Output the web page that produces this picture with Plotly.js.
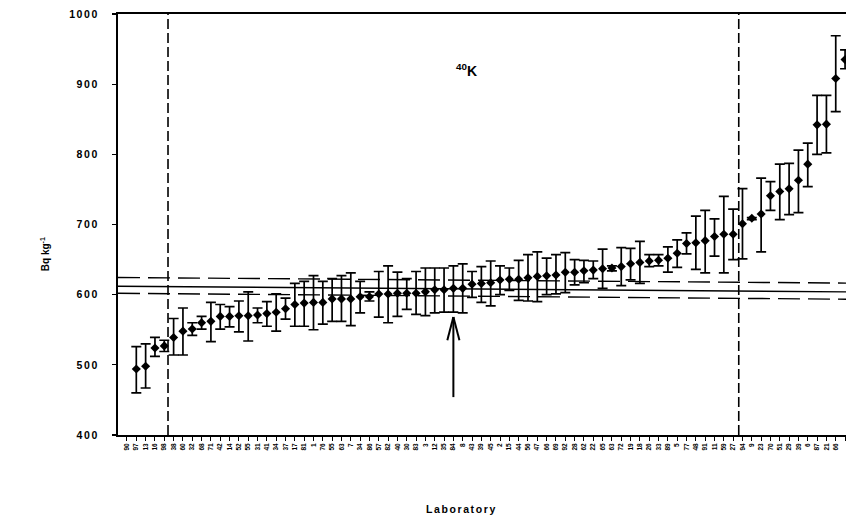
<!DOCTYPE html>
<html>
<head>
<meta charset="utf-8">
<script src="https://cdn.plot.ly/plotly-3.0.1.min.js"></script>
<style>
  html, body { margin: 0; padding: 0; background: #fff; overflow: hidden; }
  #chart { width: 846px; height: 522px; }
</style>
</head>
<body>
<div id="chart"></div>
<script>
// Laboratory codes (tick labels), first label sits one slot left of the first point
const labCodes = ['90','97','13','16','98','38','60','32','68','71','42','14','52','55','31','41','34','37','17','81',
  '1','76','55','63','7','34','86','57','82','40','30','83','3','12','35','84','8','43','39','45',
  '2','15','44','56','47','66','69','92','28','62','22','65','63','72','19','18','26','33','89','5',
  '77','48','91','11','59','27','94','9','23','70','51','29','39','6','87','21','66','73'];

// 40K activity (Bq/kg) for each laboratory result, sorted
const values = [494,498,524,527,539,548,551,560,562,569,569,570,570,571,573,575,580,586,588,589,
  589,594,594,594,597,597,601,601,602,602,602,604,607,607,609,609,615,616,617,621,
  622,622,624,626,627,628,632,632,634,635,637,638,640,644,646,648,649,652,659,673,
  674,677,683,686,686,701,709,715,741,747,751,763,786,842,843,908,935];
const errPlus = [32,32,15,8,27,33,9,9,27,17,14,21,34,10,17,26,15,30,31,38,
  30,29,33,37,22,7,32,40,30,21,31,34,31,31,32,35,18,24,31,20,
  16,27,33,35,25,29,28,18,15,13,28,3,27,22,30,9,8,16,19,15,
  38,43,25,54,36,50,1,51,20,39,36,43,30,42,41,61,14];
const errMinus = [34,31,12,8,25,34,9,9,29,18,15,23,36,11,18,27,15,31,33,39,
  31,32,32,38,23,6,33,41,33,23,30,34,33,32,34,35,19,27,33,21,
  16,30,33,36,27,27,29,18,17,12,28,4,27,23,30,8,8,20,20,15,
  38,46,28,55,36,50,2,54,21,40,37,46,32,42,41,47,13];

// Reference value lines (upper limit, reference value, lower limit) at left and right of plot
const refLeft = [624.5, 612, 602];
const refRight = [616.5, 604, 593.5];
const refDash = ['22px,8px', 'solid', '22px,8px'];

// Vertical dashed boundaries (in point-index units) and arrowed laboratory index
const boundaries = [4.4, 65.6];
const arrowIndex = 35;
const arrowTip = 568, arrowBase = 454, arrowWing = 535, arrowHalf = 0.65;

const yTicks = [400, 500, 600, 700, 800, 900, 1000];

const xPos = values.map((v, i) => i + 1);
const tickPos = labCodes.map((c, i) => i);

const trace = {
  type: 'scatter',
  mode: 'markers',
  x: xPos,
  y: values,
  marker: { symbol: 'diamond', size: 7, color: '#000' },
  error_y: {
    type: 'data', symmetric: false,
    array: errPlus, arrayminus: errMinus,
    color: '#000', thickness: 1.7, width: 5
  },
  hoverinfo: 'x+y',
  showlegend: false
};

const shapes = [];
refLeft.forEach((yl, i) => {
  shapes.push({
    type: 'line', xref: 'paper', yref: 'y',
    x0: 0, x1: 1, y0: yl, y1: refRight[i],
    line: { color: '#000', width: 1.4, dash: refDash[i] }
  });
});
boundaries.forEach(b => {
  shapes.push({
    type: 'line', xref: 'x', yref: 'paper',
    x0: b, x1: b, y0: 0, y1: 1,
    line: { color: '#000', width: 1.6, dash: '10px,4px' }
  });
});
// arrow shaft and open head
shapes.push({ type: 'line', xref: 'x', yref: 'y', x0: arrowIndex, x1: arrowIndex, y0: arrowBase, y1: arrowTip,
  line: { color: '#000', width: 2 } });
shapes.push({ type: 'line', xref: 'x', yref: 'y', x0: arrowIndex - arrowHalf, x1: arrowIndex, y0: arrowWing, y1: arrowTip,
  line: { color: '#000', width: 2 } });
shapes.push({ type: 'line', xref: 'x', yref: 'y', x0: arrowIndex + arrowHalf, x1: arrowIndex, y0: arrowWing, y1: arrowTip,
  line: { color: '#000', width: 2 } });

const font = 'Liberation Sans, Arial, sans-serif';

const layout = {
  width: 846, height: 522,
  margin: { l: 118, r: 0, t: 14, b: 87 },
  paper_bgcolor: '#fff', plot_bgcolor: '#fff',
  font: { family: font, color: '#000' },
  showlegend: false,
  xaxis: {
    range: [-0.963, 77.1],
    tickmode: 'array', tickvals: tickPos, ticktext: labCodes,
    tickangle: -90,
    tickfont: { family: font, size: 6.5, weight: 'bold', color: '#000' },
    ticks: 'outside', ticklen: 4, tickwidth: 1, tickcolor: '#000',
    showline: true, linecolor: '#000', linewidth: 1.8, mirror: true,
    showgrid: false, zeroline: false
  },
  yaxis: {
    range: [400, 1000],
    tickmode: 'array', tickvals: yTicks,
    tickfont: { family: font, size: 10.5, weight: 'bold', color: '#000' },
    ticks: 'outside', ticklen: 4, tickwidth: 1.2, tickcolor: '#000',
    ticklabelstandoff: 11,
    showline: true, linecolor: '#000', linewidth: 2,
    showgrid: false, zeroline: false
  },
  shapes: shapes,
  annotations: [
    { xref: 'paper', yref: 'paper', x: 0.479, y: 0.867, xanchor: 'center', yanchor: 'middle',
      text: '<sup>40</sup>K', showarrow: false,
      font: { family: font, size: 14, weight: 'bold', color: '#000' } },
    { xref: 'paper', yref: 'paper', x: -0.1, y: 0.43, xanchor: 'center', yanchor: 'middle',
      text: 'Bq kg<sup>-1</sup>', textangle: -90, showarrow: false,
      font: { family: font, size: 10, weight: 'bold', color: '#000' } },
    { xref: 'paper', yref: 'paper', x: 0.472, y: -0.176, xanchor: 'center', yanchor: 'middle',
      text: 'Laboratory', showarrow: false,
      font: { family: font, size: 10.5, weight: 'bold', color: '#000' } }
  ]
};

Plotly.newPlot('chart', [trace], layout, { displayModeBar: false, staticPlot: true }).then(() => {
  document.querySelectorAll('.ytick text').forEach(t => { t.style.letterSpacing = '1.6px'; });
  document.querySelectorAll('.annotation-text').forEach(t => {
    if (t.textContent === 'Laboratory') t.style.letterSpacing = '1.6px';
  });
});
</script>
</body>
</html>
